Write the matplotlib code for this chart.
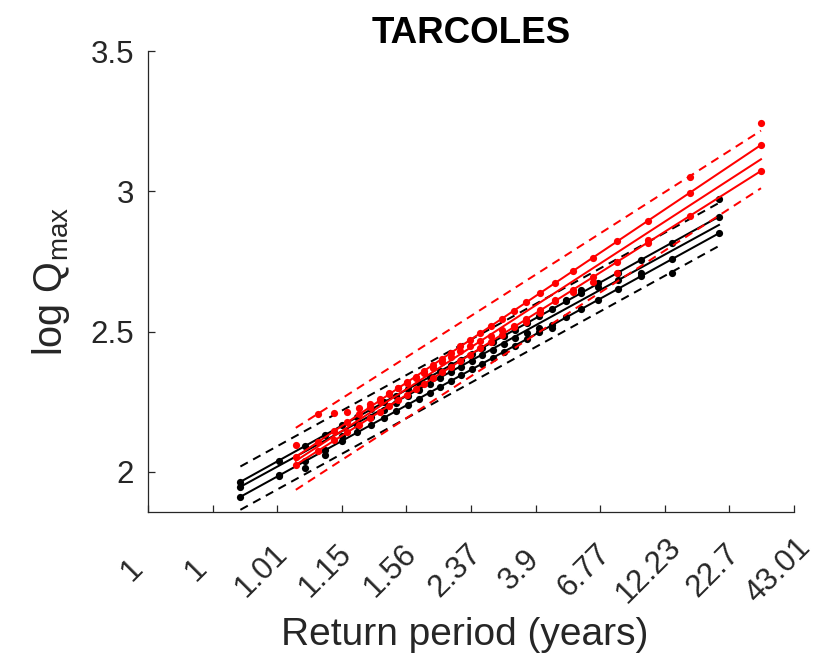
import matplotlib
matplotlib.use('Agg')
import matplotlib.pyplot as plt
from matplotlib.transforms import ScaledTranslation

plt.rcParams['font.family'] = ['Liberation Sans', 'DejaVu Sans']
plt.rcParams['mathtext.default'] = 'regular'

# ---------------- data ----------------
tick_pos = [0, 1, 2, 3, 4, 5, 6, 7, 8, 9, 10]
tick_labels = ['1', '1', '1.01', '1.15', '1.56', '2.37', '3.9', '6.77', '12.23', '22.7', '43.01']
y_ticks = [2, 2.5, 3, 3.5]
y_tick_labels = ['2', '2.5', '3', '3.5']

# black series: plotting positions (axis units) and values
black_x = [1.430, 2.025, 2.424, 2.738, 3.005, 3.240, 3.454, 3.653, 3.841, 4.019,
           4.190, 4.358, 4.525, 4.687, 4.848, 5.009, 5.173, 5.339, 5.509, 5.683,
           5.864, 6.054, 6.254, 6.472, 6.707, 6.971, 7.274, 7.638, 8.111, 8.839]
black_obs = [1.9467, 1.9894, 2.0144, 2.0607, 2.1284, 2.1676, 2.1961, 2.2211, 2.2460, 2.2710,
             2.2923, 2.3137, 2.3351, 2.3565, 2.3743, 2.3957, 2.4170, 2.4348, 2.4562, 2.4776,
             2.4954, 2.5132, 2.5132, 2.6130, 2.6486, 2.6593, 2.6842, 2.7092, 2.7092, 2.9728]
black_up = [1.9645, 2.0404, 2.0913, 2.1314, 2.1654, 2.1954, 2.2227, 2.2481, 2.2721, 2.2948,
            2.3166, 2.3380, 2.3593, 2.3800, 2.4005, 2.4211, 2.4420, 2.4632, 2.4849, 2.5071,
            2.5301, 2.5544, 2.5799, 2.6077, 2.6377, 2.6714, 2.7100, 2.7565, 2.8168, 2.9097]
black_lo = [1.9111, 1.9865, 2.0371, 2.0769, 2.1108, 2.1406, 2.1677, 2.1930, 2.2168, 2.2394,
            2.2610, 2.2823, 2.3035, 2.3241, 2.3445, 2.3649, 2.3857, 2.4067, 2.4283, 2.4503,
            2.4733, 2.4974, 2.5227, 2.5504, 2.5802, 2.6136, 2.6521, 2.6982, 2.7582, 2.8505]
black_mid_x = [1.430, 8.839]
black_mid = [1.9467, 2.8801]
black_band_x = [1.430, 8.839]
black_band_up = [2.0191, 2.9585]
black_band_lo = [1.8648, 2.8053]

# red series
red_x = [2.288, 2.638, 2.885, 3.088, 3.268, 3.430, 3.584, 3.729, 3.868, 4.008,
         4.142, 4.279, 4.415, 4.554, 4.693, 4.837, 4.988, 5.142, 5.303, 5.475,
         5.658, 5.854, 6.070, 6.308, 6.577, 6.887, 7.262, 7.735, 8.390, 9.489]
red_obs = [2.0964, 2.2068, 2.2104, 2.2139, 2.2282, 2.2424, 2.2602, 2.2816, 2.2994, 2.3172,
           2.3350, 2.3528, 2.3707, 2.3920, 2.4099, 2.4312, 2.4491, 2.4669, 2.4847, 2.5060,
           2.5203, 2.5346, 2.5666, 2.6129, 2.6414, 2.6770, 2.7091, 2.8267, 3.0511, 3.2435]
red_up = [2.0536, 2.1076, 2.1457, 2.1771, 2.2049, 2.2299, 2.2536, 2.2760, 2.2975, 2.3191,
          2.3398, 2.3609, 2.3819, 2.4034, 2.4248, 2.4470, 2.4703, 2.4941, 2.5190, 2.5455,
          2.5738, 2.6040, 2.6374, 2.6741, 2.7156, 2.7635, 2.8213, 2.8943, 2.9954, 3.1651]
red_lo = [2.0251, 2.0760, 2.1119, 2.1415, 2.1676, 2.1912, 2.2136, 2.2347, 2.2549, 2.2753,
          2.2948, 2.3147, 2.3345, 2.3547, 2.3749, 2.3959, 2.4178, 2.4402, 2.4636, 2.4887,
          2.5153, 2.5438, 2.5752, 2.6098, 2.6489, 2.6940, 2.7486, 2.8174, 2.9126, 3.0725]
red_mid_x = [2.288, 9.489]
red_mid = [2.0394, 3.1142]
red_band_x = [2.288, 9.489]
red_band_up = [2.1569, 3.2161]
red_band_lo = [1.9361, 3.0109]

# ---------------- figure ----------------
fig = plt.figure(figsize=(8.16, 6.61), dpi=100)
ax = fig.add_axes([148 / 816, 1 - 512 / 661, 646 / 816, 461 / 661])

lw = 1.45
ms = 5.2
dash = (4.2, 3.0)

groups = [
    ('black', black_x, black_obs, black_up, black_lo, black_mid_x, black_mid,
     black_band_x, black_band_up, black_band_lo),
    ('red', red_x, red_obs, red_up, red_lo, red_mid_x, red_mid,
     red_band_x, red_band_up, red_band_lo),
]
for color, x, obs, up, lo, mx, mid, bx, bup, blo in groups:
    c = 'k' if color == 'black' else (1, 0, 0)
    ax.plot(bx, bup, color=c, lw=lw, dashes=dash)
    ax.plot(bx, blo, color=c, lw=lw, dashes=dash)
    ax.plot(mx, mid, color=c, lw=lw)
    ax.plot(x, up, color=c, lw=lw, marker='o', ms=ms, mec='none')
    ax.plot(x, lo, color=c, lw=lw, marker='o', ms=ms, mec='none')
    ax.plot(x, obs, linestyle='none', color=c, marker='o', ms=ms, mec='none')

ax.set_xlim(0, 10)
ax.set_ylim(1.857, 3.5)

axcol = '#262626'
for s in ['top', 'right']:
    ax.spines[s].set_visible(False)
for s in ['left', 'bottom']:
    ax.spines[s].set_color(axcol)
    ax.spines[s].set_linewidth(0.9)

ax.set_yticks(y_ticks)
ax.set_yticklabels(y_tick_labels)
ax.set_xticks(tick_pos)
ax.set_xticklabels(tick_labels, rotation=45, ha='center', va='center',
                   rotation_mode='anchor')
ax.tick_params(axis='both', direction='in', length=5, width=0.9, color=axcol,
               labelcolor=axcol, labelsize=22.5)
ax.tick_params(axis='y', pad=10)
ax.tick_params(axis='x', pad=42)
offset = ScaledTranslation(-0.16, 0, fig.dpi_scale_trans)
for lab in ax.get_xticklabels():
    lab.set_transform(lab.get_transform() + offset)

ax.set_ylabel(r'log Q$_{max}$', fontsize=28.5, color=axcol)
ax.yaxis.set_label_coords(-0.118, 0.5)
ax.set_xlabel('Return period (years)', fontsize=28, color=axcol, va='top')
ax.xaxis.set_label_coords(0.49, -0.228)
ax.set_title('TARCOLES', fontsize=26.5, fontweight='bold', pad=6)

fig.savefig('out.png', dpi=100)
